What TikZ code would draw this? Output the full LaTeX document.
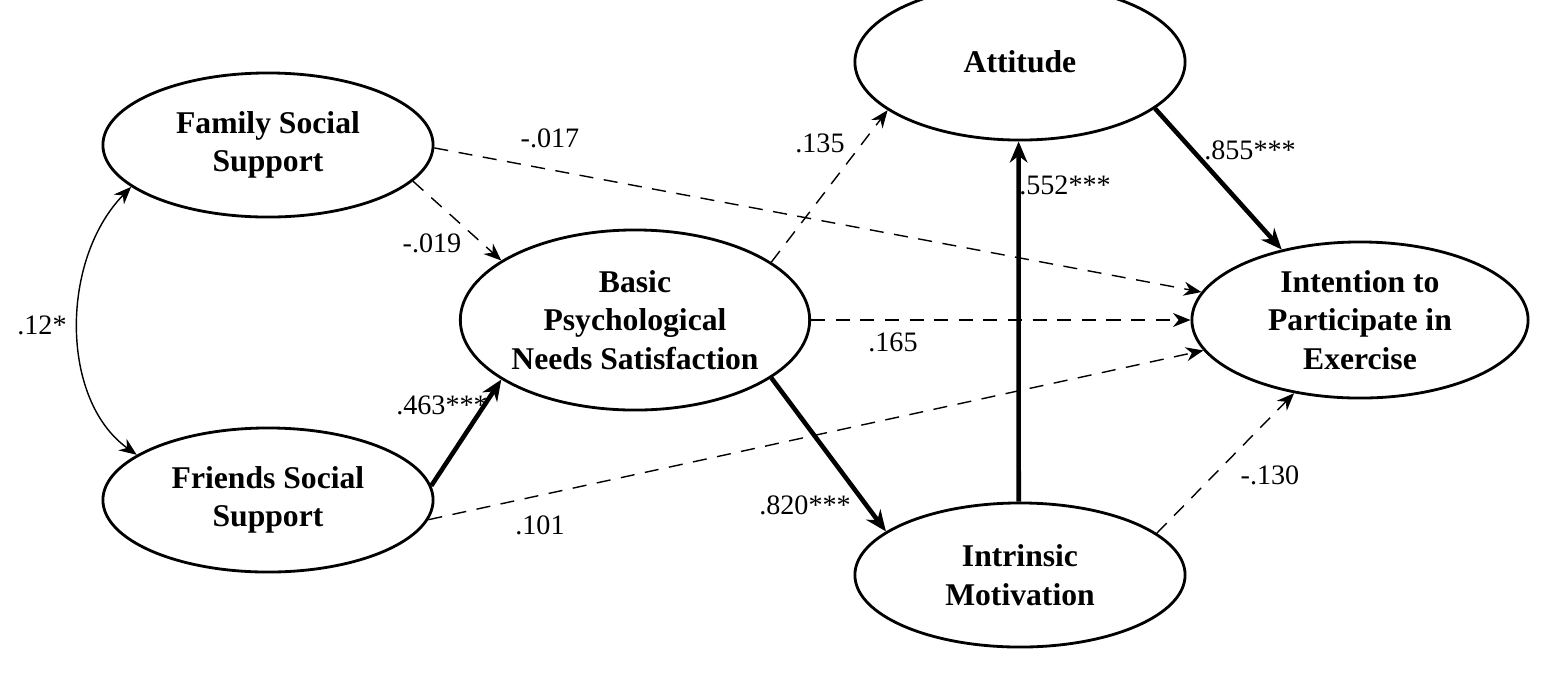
\documentclass[tikz,border=0pt]{standalone}
\usepackage{fontspec}
\setmainfont{Liberation Serif}
\usetikzlibrary{shapes.geometric,arrows.meta}

\tikzset{
  construct/.style={draw, thick, ellipse, inner sep=0pt, align=center,
    font=\fontsize{9}{11}\selectfont\bfseries},
  path dashed/.style={-{Stealth[length=5pt,width=4pt]}, thin, dash pattern=on 4pt off 3pt},
  path solid/.style={-{Stealth[length=6pt,width=5pt]}, line width=1.3pt},
  coef/.style={font=\fontsize{8}{10}\selectfont}
}

\begin{document}
\begin{tikzpicture}[x=0.01cm, y=-0.01cm]
\useasboundingbox (0,0) rectangle (1541,699);

% constructs
\node [construct, minimum width=3.3cm, minimum height=1.44cm] (family) at (268,145) {Family Social\\Support};
\node [construct, minimum width=3.3cm, minimum height=1.44cm] (friends) at (268,500) {Friends Social\\Support};
\node [construct, minimum width=3.36cm, minimum height=1.8cm] (bpns) at (635,320) {Basic\\Psychological\\Needs Satisfaction};
\node [construct, minimum width=3.3cm, minimum height=1.56cm] (attitude) at (1020,62) {Attitude};
\node [construct, minimum width=3.3cm, minimum height=1.44cm] (intrinsic) at (1020,575) {Intrinsic\\Motivation};
\node [construct, minimum width=3.36cm, minimum height=1.56cm] (intention) at (1360,320) {Intention to\\Participate in\\Exercise};

% paths
\draw [path dashed] (family.-1) -- (intention.170);
\draw [path dashed] (family.-14) -- (bpns.156);
\draw [path dashed] (bpns.23) -- (attitude.-160);
\draw [path dashed] (bpns.0) -- (intention.180);
\draw [path solid] (friends.5) -- (bpns.204);
\draw [path dashed] (friends.-7) -- (intention.191);
\draw [path solid] (bpns.-23) -- (intrinsic.162);
\draw [path solid] (intrinsic.91) -- (attitude.-91);
\draw [path solid] (attitude.-19) -- (intention.138);
\draw [path dashed] (intrinsic.17) -- (intention.228);
\draw [{Stealth[length=5pt,width=4pt]}-{Stealth[length=5pt,width=4pt]}, thin]
  (family.197) .. controls (60,260) and (60,400) .. (friends.161);

% coefficients
\node [coef] (c1) at (550,138) {-.017};
\node [coef] (c2) at (432,243) {-.019};
\node [coef] (c3) at (820,143) {.135};
\node [coef] (c4) at (893,342) {.165};
\node [coef] (c5) at (442,405) {.463***};
\node [coef] (c6) at (540,525) {.101};
\node [coef] (c7) at (805,505) {.820***};
\node [coef] (c8) at (1065,185) {.552***};
\node [coef] (c9) at (1250,150) {.855***};
\node [coef] (c10) at (1270,475) {-.130};
\node [coef] (c11) at (42,325) {.12*};
\end{tikzpicture}
\end{document}
